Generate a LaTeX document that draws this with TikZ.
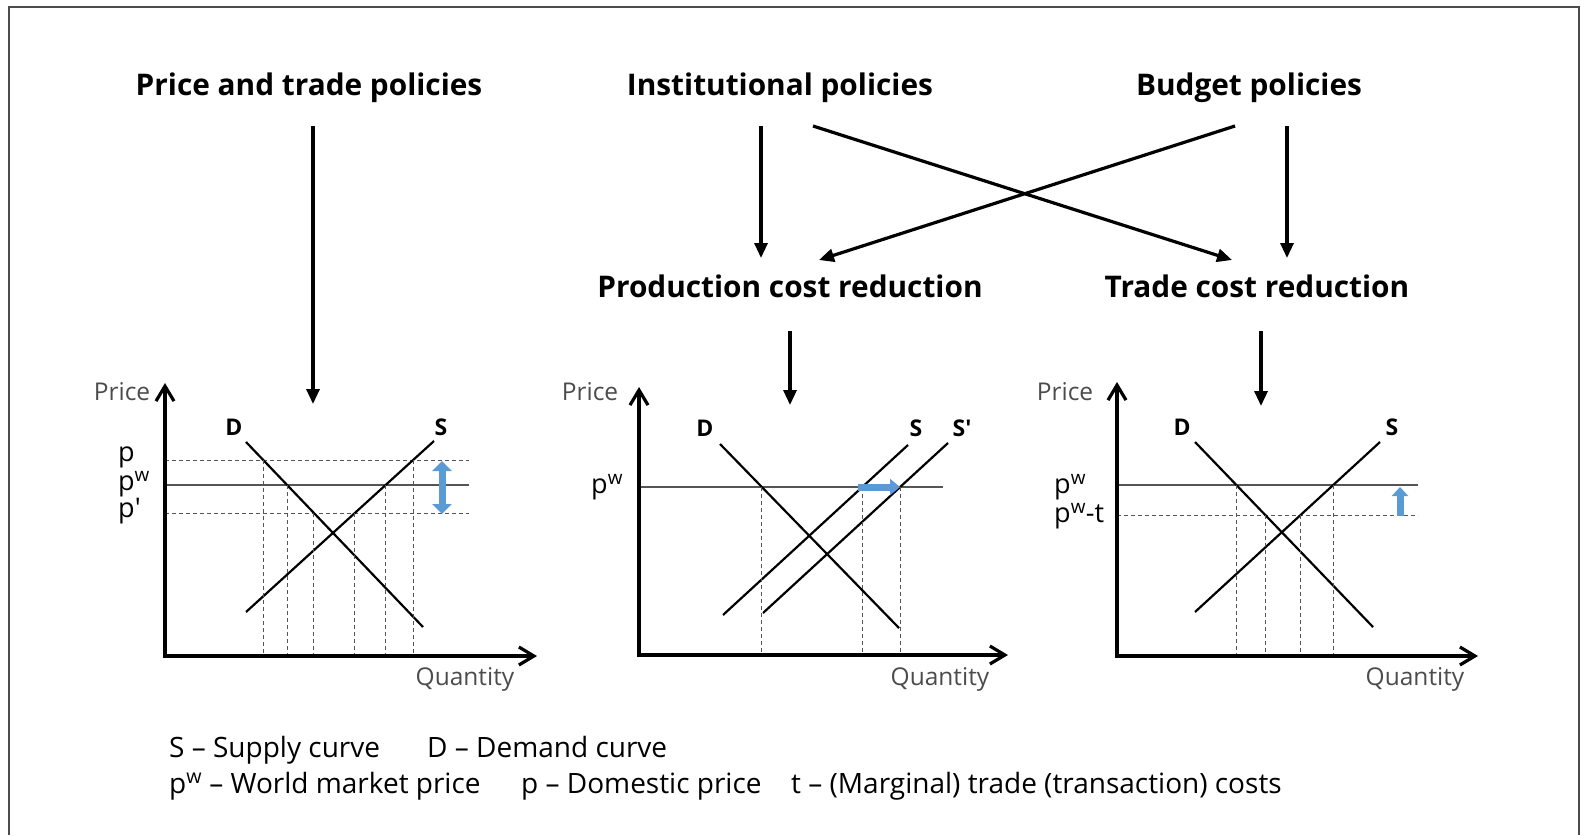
\documentclass[tikz,border=0pt]{standalone}
\usepackage{fontspec}
\setmainfont{Open Sans}
\usetikzlibrary{arrows.meta, intersections}
\definecolor{qgrey}{RGB}{85,85,85}
\definecolor{qblue}{RGB}{91,155,213}

\tikzset{
  policy/.style={font=\bfseries\fontsize{29.8}{32}\selectfont, inner sep=0pt},
  effect/.style={-{Triangle[length=15pt,width=13pt]}, line width=3.2pt},
  priceaxis/.style={line width=3.2pt, {Straight Barb[length=15pt,width=18pt]}-{Straight Barb[length=15pt,width=18pt]}},
  sdcurve/.style={line width=2.2pt},
  world/.style={line width=1.3pt, color=qgrey},
  guide/.style={line width=1pt, dash pattern=on 4pt off 3pt, color=qgrey},
  move/.style={line width=7pt, color=qblue},
  axlabel/.style={font=\fontsize{24.5}{26}\selectfont, color=black!70},
  pricelabel/.style={font=\fontsize{27}{28}\selectfont, anchor=west, inner sep=0pt},
  curvelabel/.style={font=\bfseries\fontsize{23}{25}\selectfont},
  legend/.style={font=\fontsize{28}{30}\selectfont, anchor=base west, inner sep=0pt}
}
% dashed drop line from the crossing of two named paths down to the quantity axis
\newcommand\dropline[3]{%
  \path[name intersections={of=#1 and #2, by=cut}];
  \draw[guide] (cut) -- (cut |- #3);
}

\begin{document}
\begin{tikzpicture}[x=1pt, y=-1pt]
\useasboundingbox (0,0) rectangle (1581,835);
%frame
\draw[line width=2pt, color=black!70] (9,835) -- (9,7) -- (1579,7) -- (1579,835);

%policies
\node[policy] (ptp) at (309,88) {Price and trade policies};
\node[policy] (inst) at (780,88) {Institutional policies};
\node[policy] (budget) at (1249,88) {Budget policies};
\node[policy] (prod) at (790,286) {Production cost reduction};
\node[policy] (trade) at (1257,286) {Trade cost reduction};

%arrow ends
\coordinate (ptp-out) at (313,126);
\coordinate (inst-out) at (761,126);
\coordinate (inst-x) at (813,126);
\coordinate (budget-x) at (1235,126);
\coordinate (budget-out) at (1287,126);
\coordinate (prod-in) at (761,258);
\coordinate (prod-x) at (819,260);
\coordinate (trade-x) at (1232,260);
\coordinate (trade-in) at (1287,258);
\coordinate (prod-out) at (790,331);
\coordinate (trade-out) at (1261,331);
\coordinate (chart1-in) at (313,404);
\coordinate (chart2-in) at (790,405);
\coordinate (chart3-in) at (1261,406);

%arrows
\draw[effect] (ptp-out) -- (chart1-in);
\draw[effect] (inst-out) -- (prod-in);
\draw[effect] (inst-x) -- (trade-x);
\draw[effect] (budget-x) -- (prod-x);
\draw[effect] (budget-out) -- (trade-in);
\draw[effect] (prod-out) -- (chart2-in);
\draw[effect] (trade-out) -- (chart3-in);

%chart 1
\coordinate (o1) at (165,656);
\draw[guide, name path=p1] (165,460) -- (469,460);
\draw[world, name path=w1] (165,485) -- (469,485);
\draw[guide, name path=q1] (165,513) -- (469,513);
\draw[sdcurve, name path=d1] (246,442) -- (423,627);
\draw[sdcurve, name path=s1] (246,612) -- (434,441);
\dropline{d1}{p1}{o1}
\dropline{d1}{w1}{o1}
\dropline{d1}{q1}{o1}
\dropline{s1}{q1}{o1}
\dropline{s1}{w1}{o1}
\dropline{s1}{p1}{o1}
\draw[priceaxis] (165,383) -- (o1) -- (537,656);
\draw[move, {Triangle[length=10pt,width=19pt]}-{Triangle[length=10pt,width=19pt]}] (442,461) -- (442,514);
\node[curvelabel] (d1-lab) at (234,427) {D};
\node[curvelabel] (s1-lab) at (441,427) {S};
\node[pricelabel] (p1-lab) at (118,457) {p};
\node[pricelabel] (w1-lab) at (118,484) {p\textsuperscript{w}};
\node[pricelabel] (q1-lab) at (118,511) {p\textquotesingle};
\node[axlabel] (y1-lab) at (122,392) {Price};
\node[axlabel] (x1-lab) at (465,679) {Quantity};

%chart 2
\coordinate (o2) at (639,655);
\draw[world, name path=w2] (639,487) -- (943,487);
\draw[sdcurve, name path=d2] (720,444) -- (899,628);
\draw[sdcurve, name path=s2] (723,615) -- (908,445);
\draw[sdcurve, name path=t2] (763,613) -- (948,443);
\dropline{d2}{w2}{o2}
\dropline{s2}{w2}{o2}
\dropline{t2}{w2}{o2}
\draw[priceaxis] (639,387) -- (o2) -- (1008,655);
\draw[move, -{Triangle[length=10pt,width=16pt]}] (858,487) -- (900,487);
\node[curvelabel] (d2-lab) at (705,428) {D};
\node[curvelabel] (s2-lab) at (916,428) {S};
\node[curvelabel] (t2-lab) at (962,428) {S\textquotesingle};
\node[pricelabel] (w2-lab) at (591,487) {p\textsuperscript{w}};
\node[axlabel] (y2-lab) at (590,392) {Price};
\node[axlabel] (x2-lab) at (940,679) {Quantity};

%chart 3
\coordinate (o3) at (1117,656);
\draw[world, name path=w3] (1117,485) -- (1418,485);
\draw[guide, name path=q3] (1117,515) -- (1418,515);
\draw[sdcurve, name path=d3] (1195,442) -- (1373,627);
\draw[sdcurve, name path=s3] (1195,612) -- (1380,442);
\dropline{d3}{w3}{o3}
\dropline{d3}{q3}{o3}
\dropline{s3}{q3}{o3}
\dropline{s3}{w3}{o3}
\draw[priceaxis] (1117,382) -- (o3) -- (1478,656);
\draw[move, -{Triangle[length=9pt,width=16pt]}] (1400,516) -- (1400,487);
\node[curvelabel] (d3-lab) at (1182,427) {D};
\node[curvelabel] (s3-lab) at (1392,427) {S};
\node[pricelabel] (w3-lab) at (1054,487) {p\textsuperscript{w}};
\node[pricelabel] (q3-lab) at (1054,516) {p\textsuperscript{w}-t};
\node[axlabel] (y3-lab) at (1065,392) {Price};
\node[axlabel] (x3-lab) at (1415,679) {Quantity};

%legend
\node[legend] (leg-s) at (169,757) {S -- Supply curve};
\node[legend] (leg-d) at (427,757) {D -- Demand curve};
\node[legend] (leg-w) at (169,793) {p\textsuperscript{w} -- World market price};
\node[legend] (leg-p) at (521,793) {p -- Domestic price};
\node[legend] (leg-t) at (791,793) {t -- (Marginal) trade (transaction) costs};
\end{tikzpicture}
\end{document}
